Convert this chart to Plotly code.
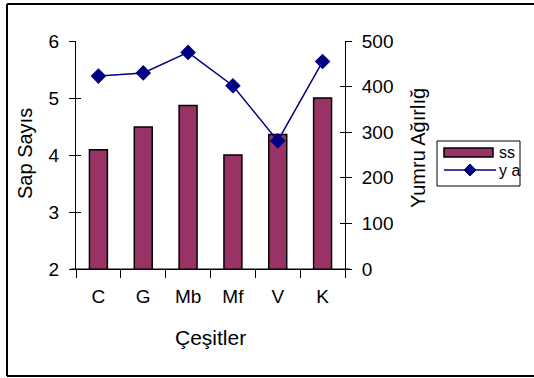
import plotly.graph_objects as go

categories = ["C", "G", "Mb", "Mf", "V", "K"]
ss_values = [4.09, 4.49, 4.87, 4.0, 4.36, 5.0]
ya_values = [423, 430, 475, 402, 281, 455]
left_ticks = [2, 3, 4, 5, 6]
right_ticks = [0, 100, 200, 300, 400, 500]
legend_labels = ["ss", "y a"]

FONT = "Liberation Sans, Arial, sans-serif"
BAR_COLOR = "#993366"
LINE_COLOR = "#000080"

# plot area in pixels: x 76..345, y 41..269
def px(x):
    return (x - 76) / 269.0

def py(y):
    return (269 - y) / 228.0

fig = go.Figure()
fig.add_trace(go.Bar(
    x=categories, y=ss_values, name=legend_labels[0],
    marker=dict(color=BAR_COLOR, line=dict(color="black", width=1.5)),
    width=0.4, yaxis="y", showlegend=False,
))
fig.add_trace(go.Scatter(
    x=categories, y=ya_values, name=legend_labels[1], yaxis="y2",
    mode="lines+markers",
    line=dict(color=LINE_COLOR, width=1.5),
    marker=dict(symbol="diamond", size=12, color=LINE_COLOR),
    showlegend=False,
))

frame = dict(color="black", width=2)
shapes = [
    # outer frame (left, top, bottom; right edge is outside the picture)
    dict(type="line", xref="paper", yref="paper",
         x0=px(7), x1=px(7), y0=py(376), y1=py(4), line=frame),
    dict(type="line", xref="paper", yref="paper",
         x0=px(7), x1=px(534), y0=py(4), y1=py(4), line=frame),
    dict(type="line", xref="paper", yref="paper",
         x0=px(7), x1=px(534), y0=py(376), y1=py(376), line=frame),
    # extended baseline
    dict(type="line", xref="paper", yref="paper",
         x0=px(71), x1=px(350), y0=0, y1=0, line=dict(color="black", width=1)),
    # legend box
    dict(type="rect", xref="paper", yref="paper",
         x0=px(437), x1=px(520), y0=py(186), y1=py(141),
         line=dict(color="black", width=1), fillcolor="white"),
    # bar swatch
    dict(type="rect", xref="paper", yref="paper",
         x0=px(444), x1=px(493), y0=py(157), y1=py(148),
         line=dict(color="black", width=1.5), fillcolor=BAR_COLOR),
    # line swatch
    dict(type="line", xref="paper", yref="paper",
         x0=px(444), x1=px(496), y0=py(170), y1=py(170),
         line=dict(color=LINE_COLOR, width=1.5)),
    # diamond marker
    dict(type="path", xref="paper", yref="paper",
         path="M {} {} L {} {} L {} {} L {} {} Z".format(
             px(470), py(164), px(476), py(170), px(470), py(176), px(464), py(170)),
         line=dict(color=LINE_COLOR, width=1), fillcolor=LINE_COLOR),
]

fig.update_layout(
    width=534, height=378,
    margin=dict(l=76, r=189, t=41, b=109),
    paper_bgcolor="white", plot_bgcolor="white",
    font=dict(family=FONT, size=18, color="black"),
    showlegend=False,
    xaxis=dict(
        type="category", showline=True, linecolor="black", linewidth=1,
        ticks="outside", ticklen=8, tickcolor="black", tickson="boundaries",
        showgrid=False, zeroline=False, ticklabelstandoff=10,
        tickfont=dict(size=19),
    ),
    yaxis=dict(
        range=[2, 6], tickvals=left_ticks, showline=True, linecolor="black",
        linewidth=1, ticks="outside", ticklen=6, tickcolor="black",
        showgrid=False, zeroline=False, ticklabelstandoff=6,
        tickfont=dict(size=19),
    ),
    yaxis2=dict(
        range=[0, 500], tickvals=right_ticks, overlaying="y", side="right",
        showline=True, linecolor="black", linewidth=1, ticks="outside",
        ticklen=6, tickcolor="black", showgrid=False, zeroline=False,
        ticklabelstandoff=6, tickfont=dict(size=19),
    ),
    yaxis3=dict(
        range=[2, 6], tickvals=left_ticks, overlaying="y", side="left",
        ticks="inside", ticklen=5, tickcolor="black", showticklabels=False,
        showgrid=False, zeroline=False, showline=False,
    ),
    yaxis4=dict(
        range=[0, 500], tickvals=right_ticks, overlaying="y", side="right",
        ticks="inside", ticklen=5, tickcolor="black", showticklabels=False,
        showgrid=False, zeroline=False, showline=False,
    ),
    shapes=shapes,
    annotations=[
        dict(text="Sap Sayıs", xref="paper", yref="paper", x=px(25), y=py(154),
             textangle=-90, showarrow=False, font=dict(size=20),
             xanchor="center", yanchor="middle"),
        dict(text="Yumru Ağırlığ", xref="paper", yref="paper", x=px(418), y=py(148),
             textangle=-90, showarrow=False, font=dict(size=20),
             xanchor="center", yanchor="middle"),
        dict(text="Çeşitler", xref="paper", yref="paper", x=px(210), y=py(337),
             showarrow=False, font=dict(size=21),
             xanchor="center", yanchor="middle"),
        dict(text=legend_labels[0], xref="paper", yref="paper", x=px(497), y=py(152),
             showarrow=False, font=dict(size=16), xanchor="left", yanchor="middle"),
        dict(text=legend_labels[1], xref="paper", yref="paper", x=px(497), y=py(170),
             showarrow=False, font=dict(size=16), xanchor="left", yanchor="middle"),
    ],
)
# dummy traces to activate ghost tick axes
fig.add_trace(go.Scatter(x=[categories[0]], y=[None], yaxis="y3", showlegend=False, hoverinfo="skip"))
fig.add_trace(go.Scatter(x=[categories[0]], y=[None], yaxis="y4", showlegend=False, hoverinfo="skip"))

fig.write_html("out.html", config={"displayModeBar": False},
               post_script="document.body.style.margin='0'; document.body.style.overflow='hidden';")
